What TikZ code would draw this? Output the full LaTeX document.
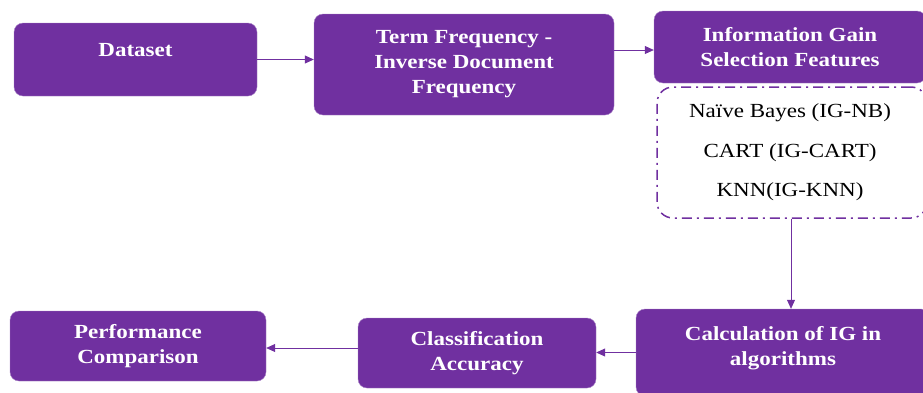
\documentclass[tikz,border=0pt]{standalone}
\usepackage{fontspec}
\setmainfont{Liberation Serif}[FakeStretch=1.15]
\usepackage{tikz}
\usetikzlibrary{arrows.meta}
\definecolor{boxpurple}{HTML}{7030A0}

\begin{document}
\begin{tikzpicture}[
		x=1pt, y=-1pt,
		box/.style={fill=boxpurple, draw=boxpurple!60, rounded corners=9pt, text=white,
			font=\fontsize{20}{25}\selectfont\bfseries, align=center, inner sep=0pt},
		algo/.style={font=\fontsize{20}{25}\selectfont, text=black},
		flow/.style={draw=boxpurple, line width=0.8pt, -{Triangle[length=9pt,width=8pt]}}
		]
		\useasboundingbox (0,0) rectangle (923,392);
		\clip (0,0) rectangle (923,392);
		\node[box, minimum width=243pt, minimum height=73pt] (dataset) at (135.5,59.5) {Dataset\\[-6pt]\mbox{}};
		\node[box, minimum width=300pt, minimum height=101pt] (tfidf) at (464,64.5) {Term Frequency -\\Inverse Document\\Frequency};
		\node[box, minimum width=272pt, minimum height=72pt] (igsel) at (790,47) {Information Gain\\Selection Features};
		\node[draw=boxpurple, line width=1.5pt, rounded corners=16pt,
			dash pattern=on 10pt off 5pt on 2pt off 5pt,
			minimum width=270pt, minimum height=131pt] (algos) at (792,152.5) {};
		\node[algo] (nb) at (790,113) {Naïve Bayes (IG-NB)};
		\node[algo] (cart) at (790,153) {CART (IG-CART)};
		\node[algo] (knn) at (790,192) {KNN(IG-KNN)};
		\node[box, minimum width=294pt, minimum height=87pt] (calc) at (783,352.5) {Calculation of IG in\\algorithms\\[-11pt]\mbox{}};
		\node[box, minimum width=238pt, minimum height=70pt] (classif) at (477,353) {Classification\\Accuracy};
		\node[box, minimum width=256pt, minimum height=70pt] (perf) at (138,346) {Performance\\Comparison};
		\draw[flow] (dataset.east) -- (dataset.east -| tfidf.west);
		\draw[flow] (tfidf.east |- 0,50) -- (igsel.west |- 0,50);
		\draw[flow] (algos.south -| 791,0) -- (calc.north -| 791,0);
		\draw[flow] (calc.west) -- (calc.west -| classif.east);
		\draw[flow] (classif.west |- 0,348) -- (perf.east |- 0,348);
\end{tikzpicture}
\end{document}
